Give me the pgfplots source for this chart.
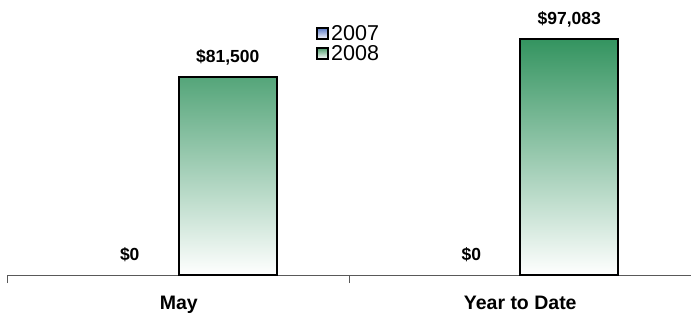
\documentclass[border=0pt]{standalone}
\usepackage{pgfplots}
\pgfplotsset{compat=1.18}
\usepackage{fontspec}
\setmainfont{Liberation Sans}
\definecolor{bargreen}{RGB}{52,148,96}
\definecolor{legblue}{RGB}{95,125,200}
\definecolor{leggreen}{RGB}{75,155,105}
\begin{document}
\begin{tikzpicture}[x=1pt,y=1pt]
\useasboundingbox (0,0) rectangle (691,314);
\begin{axis}[
  at={(8pt,39pt)}, anchor=south west,
  scale only axis, width=683pt, height=275pt,
  xmin=-0.5, xmax=1.5, ymin=0, ymax=113200,
  axis x line*=bottom, axis y line=none,
  x axis line style={black!65, line width=1pt},
  xtick={0,1}, xticklabels={May,Year to Date},
  major x tick style={draw=none},
  minor xtick={-0.5,0.5,1.5},
  minor x tick style={black!65, line width=1pt},
  minor tick length=8pt, tick align=outside,
  xticklabel style={font=\fontsize{19.5}{22}\selectfont\bfseries, inner sep=0pt, anchor=north, yshift=-17pt},
  bar width=98pt,
  point meta=explicit symbolic,
  nodes near coords,
  every node near coord/.append style={font=\fontsize{17.5}{20}\selectfont\bfseries, anchor=base, inner sep=0pt, yshift=15pt, text=black},
  legend style={at={(0.451,0.915)}, anchor=north west, draw=none, fill=none,
    font=\fontsize{21.5}{20}\selectfont, inner sep=0pt, row sep=-1pt,
    nodes={inner sep=2pt}},
  legend cell align=left,
]
\addplot[ybar, bar shift=-49pt, draw=none, fill=none,
  every node near coord/.append style={xshift=-49pt},
  legend image code/.code={\draw[line width=2pt, top color=legblue, bottom color=white] (0pt,-5.5pt) rectangle (11pt,5.5pt);}]
  coordinates {(0,0) [\$0] (1,0) [\$0]};
\addlegendentry{2007}
\addplot[ybar, bar shift=49pt, draw=black, line width=1.8pt, top color=bargreen, bottom color=white,
  every node near coord/.append style={xshift=49pt},
  legend image code/.code={\draw[line width=2pt, top color=leggreen, bottom color=white] (0pt,-5.5pt) rectangle (11pt,5.5pt);}]
  coordinates {(0,81500) [\$81,500] (1,97083) [\$97,083]};
\addlegendentry{2008}
\end{axis}
\end{tikzpicture}
\end{document}
